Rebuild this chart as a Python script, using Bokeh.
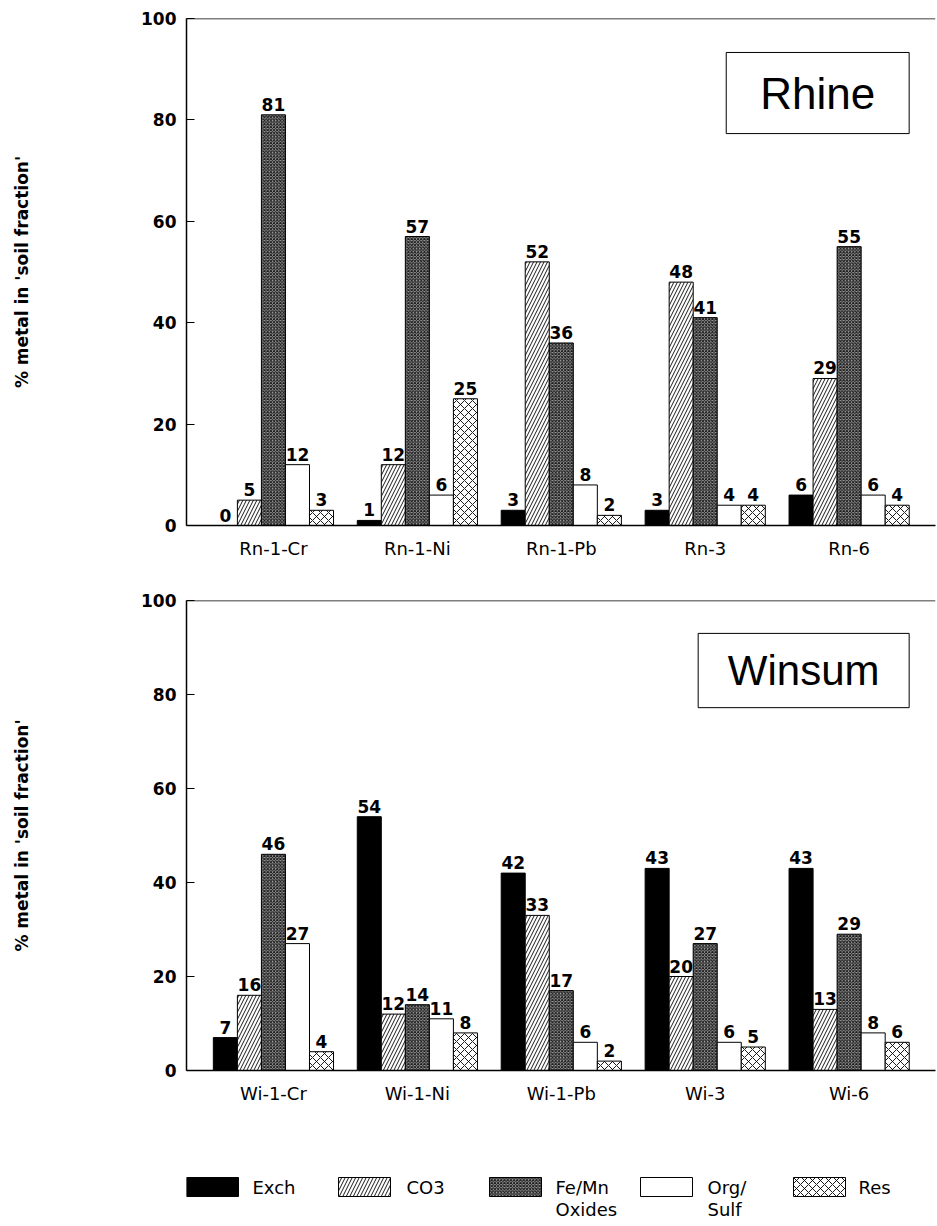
from bokeh.plotting import figure
from bokeh.models import ColumnDataSource, Range1d, FixedTicker, Span, BoxAnnotation, Label
from bokeh.transform import dodge
from bokeh.layouts import column
from bokeh.core.properties import value
from bokeh.embed import file_html
from bokeh.resources import INLINE

# ---------------- data ----------------
rhine_sites = ["Rn-1-Cr", "Rn-1-Ni", "Rn-1-Pb", "Rn-3", "Rn-6"]
winsum_sites = ["Wi-1-Cr", "Wi-1-Ni", "Wi-1-Pb", "Wi-3", "Wi-6"]
fractions = ["Exch", "CO3", "Fe/Mn Oxides", "Org/ Sulf", "Res"]

rhine_exch = [0, 1, 3, 3, 6]
rhine_co3 = [5, 12, 52, 48, 29]
rhine_femn = [81, 57, 36, 41, 55]
rhine_org = [12, 6, 8, 4, 6]
rhine_res = [3, 25, 2, 4, 4]

winsum_exch = [7, 54, 42, 43, 43]
winsum_co3 = [16, 12, 33, 20, 13]
winsum_femn = [46, 14, 17, 27, 29]
winsum_org = [27, 11, 6, 6, 8]
winsum_res = [4, 8, 2, 5, 6]

y_ticks = [0, 20, 40, 60, 80, 100]
legend_line1 = ["Exch", "CO3", "Fe/Mn", "Org/", "Res"]
legend_line2 = ["", "", "Oxides", "Sulf", ""]

# ---------------- styles ----------------
FONT = "DejaVu Sans"
BAR_W = 0.167
styles = [
    dict(fill_color="black"),
    dict(fill_color="white", hatch_pattern="/", hatch_color="black", hatch_scale=7, hatch_weight=0.9),
    dict(fill_color="#a8a8a8", hatch_pattern="x", hatch_color="#1a1a1a", hatch_scale=3.2, hatch_weight=1.0),
    dict(fill_color="white"),
    dict(fill_color="white", hatch_pattern="x", hatch_color="black", hatch_scale=8, hatch_weight=0.9),
]
offsets = [-2 * BAR_W, -BAR_W, 0, BAR_W, 2 * BAR_W]


def make_panel(sites, series, title, border_top, frame_h, border_bottom, box, title_size):
    p = figure(width=937, height=border_top + frame_h + border_bottom,
               x_range=Range1d(-0.604, 4.6), y_range=Range1d(0, 100),
               output_backend="svg", toolbar_location=None,
               min_border_left=186, min_border_right=2,
               min_border_top=border_top, min_border_bottom=border_bottom)
    p.outline_line_color = None
    p.xgrid.visible = False
    p.ygrid.visible = False

    src = ColumnDataSource(dict(
        xi=list(range(len(sites))),
        exch=series[0], co3=series[1], femn=series[2], org=series[3], res=series[4],
    ))
    cols = ["exch", "co3", "femn", "org", "res"]
    for col, off, st in zip(cols, offsets, styles):
        p.vbar(x=dodge("xi", off, range=p.x_range), top=col, width=BAR_W, bottom=0,
               source=src, line_color="black", line_width=1, **st)
        p.text(x=dodge("xi", off, range=p.x_range), y=col, text=col, source=src,
               text_align="center", text_baseline="bottom", y_offset=-4,
               text_font=value(FONT), text_font_style="bold", text_font_size="17px",
               text_color="black")

    # top frame line
    p.add_layout(Span(location=100, dimension="width", line_color="black", line_width=1.5))

    # x axis
    xa = p.xaxis[0]
    xa.ticker = FixedTicker(ticks=list(range(len(sites))))
    xa.major_label_overrides = {i: s for i, s in enumerate(sites)}
    xa.major_tick_in = 0
    xa.major_tick_out = 0
    xa.minor_tick_line_color = None
    xa.axis_line_width = 1.5
    xa.axis_line_color = "black"
    xa.major_label_text_font = FONT
    xa.major_label_text_font_size = "18px"
    xa.major_label_text_color = "black"
    xa.major_label_standoff = 12

    # y axis
    ya = p.yaxis[0]
    ya.ticker = FixedTicker(ticks=y_ticks)
    ya.major_tick_in = 8
    ya.major_tick_out = 0
    ya.major_tick_line_color = "black"
    ya.minor_tick_line_color = None
    ya.axis_line_width = 1.5
    ya.axis_line_color = "black"
    ya.major_label_text_font = FONT
    ya.major_label_text_font_style = "bold"
    ya.major_label_text_font_size = "17px"
    ya.major_label_text_color = "black"
    ya.major_label_standoff = 10
    ya.axis_label = "% metal in 'soil fraction'"
    ya.axis_label_text_font = FONT
    ya.axis_label_text_font_style = "bold"
    ya.axis_label_text_font_size = "17px"
    ya.axis_label_text_color = "black"
    ya.axis_label_standoff = 106

    left, right, top, bottom = box
    p.add_layout(BoxAnnotation(left=left, right=right, top=top, bottom=bottom,
                               fill_color="white", fill_alpha=1.0,
                               line_color="black", line_width=1, line_alpha=1.0))
    p.add_layout(Label(x=(left + right) / 2, y=(top + bottom) / 2, text=title,
                       text_align="center", text_baseline="middle",
                       text_font="Liberation Sans", text_font_size=title_size,
                       text_color="black"))
    return p


p1 = make_panel(rhine_sites, [rhine_exch, rhine_co3, rhine_femn, rhine_org, rhine_res],
                "Rhine", 18, 507, 60, (3.146, 4.417, 93.3, 77.3), "44px")
p2 = make_panel(winsum_sites, [winsum_exch, winsum_co3, winsum_femn, winsum_org, winsum_res],
                "Winsum", 15, 470, 50, (2.951, 4.417, 93.0, 77.2), "42px")

# ---------------- legend ----------------
pl = figure(width=937, height=106, x_range=Range1d(186, 935), y_range=Range1d(0, 106),
            output_backend="svg", toolbar_location=None,
            min_border_left=186, min_border_right=2, min_border_top=0, min_border_bottom=0)
pl.axis.visible = False
pl.grid.visible = False
pl.outline_line_color = None
sw_left = [186, 338, 489, 640, 793]
txt_left = [252, 406, 555, 707, 858]
for i in range(len(fractions)):
    pl.quad(left=sw_left[i], right=sw_left[i] + 52, bottom=30, top=49,
            line_color="black", line_width=1, **styles[i])
pl.text(x=txt_left, y=[39] * 5, text=legend_line1, text_baseline="middle",
        text_font=value(FONT), text_font_size="18px", text_color="black")
pl.text(x=txt_left, y=[17] * 5, text=legend_line2, text_baseline="middle",
        text_font=value(FONT), text_font_size="18px", text_color="black")

layout = column(p1, p2, pl, spacing=0)
open("out.html", "w").write(file_html(layout, INLINE))
